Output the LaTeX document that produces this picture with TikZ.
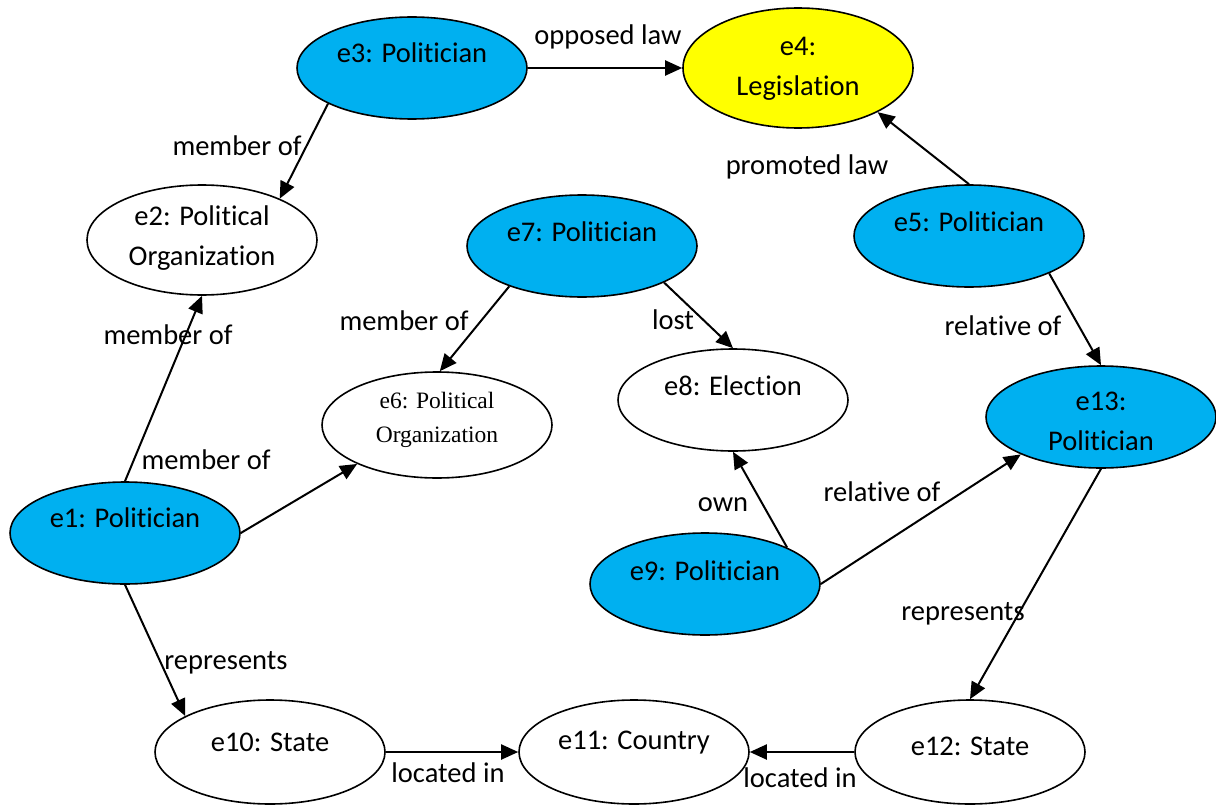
\documentclass[tikz,border=0pt]{standalone}
\usepackage{fontspec}
\setmainfont{Carlito}[RawFeature={-liga}]
\newfontfamily\tmsfont{Liberation Serif}
\usetikzlibrary{shapes.geometric,arrows.meta}
\definecolor{polblue}{HTML}{00B0F0}
\definecolor{lawyellow}{HTML}{FFFF00}
\begin{document}
\begin{tikzpicture}[x=1pt,y=-1pt,
  ent/.style={ellipse,draw=black,line width=1.6pt,inner sep=0pt,minimum width=230pt,minimum height=102pt},
  pol/.style={ent,fill=polblue},
  txt/.style={inner sep=0pt,align=center,font=\fontsize{28.5}{40}\selectfont},
  tms/.style={inner sep=0pt,align=center,font=\tmsfont\fontsize{23.5}{34}\selectfont},
  rel/.style={inner sep=0pt,font=\fontsize{28.5}{40}\selectfont},
  conn/.style={draw=black,line width=2pt,-{Triangle[length=17pt,width=15pt]}}
]
\useasboundingbox (0,0) rectangle (1216,808);
\fill[white] (0,0) rectangle (1216,808);

% entities
\node[pol] (e3) at (412,68) {};
\node[txt] (e3t) at (412,53) {e3: Politician};
\node[ent,fill=lawyellow,minimum height=120pt] (e4) at (798,68) {};
\node[txt] (e4t) at (798,69) {e4:\\Legislation};
\node[ent,minimum height=110pt] (e2) at (202,240) {};
\node[txt] (e2t) at (202,238) {e2: Political\\Organization};
\node[pol] (e7) at (582,246) {};
\node[txt] (e7t) at (582,232) {e7: Politician};
\node[pol] (e5) at (969,236) {};
\node[txt] (e5t) at (969,222) {e5: Politician};
\node[ent,minimum height=106pt] (e6) at (437,425) {};
\node[tms] (e6t) at (437,420) {e6: Political\\Organization};
\node[ent] (e8) at (733,400) {};
\node[txt] (e8t) at (733,386) {e8: Election};
\node[pol] (e13) at (1101,417) {};
\node[txt] (e13t) at (1101,421) {e13:\\Politician};
\node[pol] (e1) at (125,533) {};
\node[txt] (e1t) at (125,518) {e1: Politician};
\node[pol] (e9) at (705,584) {};
\node[txt] (e9t) at (705,571) {e9: Politician};
\node[ent,minimum height=104pt] (e10) at (270,752) {};
\node[txt] (e10t) at (270,742) {e10: State};
\node[ent,minimum height=104pt] (e11) at (634,752) {};
\node[txt] (e11t) at (634,743) {e11: Country};
\node[ent,minimum height=104pt] (e12) at (970,752) {};
\node[txt] (e12t) at (970,746) {e12: State};

% connectors
\draw[conn] (e3.east) -- (e4.west);
\draw[conn] (e3.203) -- (e2.28);
\draw[conn] (e1.north) -- (e2.south);
\draw[conn] (e1.east) -- (e6.206);
\draw[conn] (e7.209) -- (e6.87);
\draw[conn] (e7.336) -- (e8.north);
\draw[conn] (e5.north) -- (e4.331);
\draw[conn] (e5.335) -- (e13.north);
\draw[conn] (e9.24) -- (e8.south);
\draw[conn] (e9.east) -- (e13.205);
\draw[conn] (e1.south) -- (e10.157);
\draw[conn] (e13.south) -- (e12.north);
\draw[conn] (e10.east) -- (e11.west);
\draw[conn] (e12.west) -- (e11.east);

% connector labels
\node[rel] (l1) at (608,37) {opposed law};
\node[rel] (l2) at (237,146) {member of};
\node[rel] (l3) at (807,167) {promoted law};
\node[rel] (l4) at (168,335) {member of};
\node[rel] (l5) at (404,321) {member of};
\node[rel] (l6) at (673,320) {lost};
\node[rel] (l7) at (1003,326) {relative of};
\node[rel] (l8) at (206,460) {member of};
\node[rel] (l9) at (723,505) {own};
\node[rel] (l10) at (882,492) {relative of};
\node[rel] (l11) at (226,663) {represents};
\node[rel] (l12) at (963,614) {represents};
\node[rel] (l13) at (448,773) {located in};
\node[rel] (l14) at (800,778) {located in};
\end{tikzpicture}
\end{document}
